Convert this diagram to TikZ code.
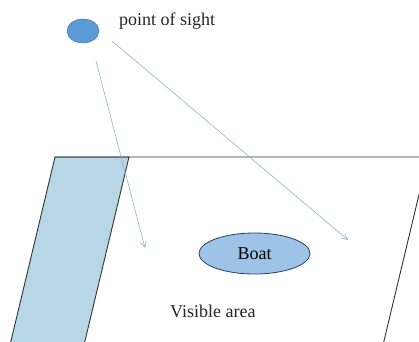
\documentclass[tikz,border=0pt]{standalone}
\usepackage{fontspec}
\setmainfont{Liberation Serif}
\usetikzlibrary{arrows.meta, shapes.geometric, positioning}
\definecolor{sight}{HTML}{5B9BD5}
\definecolor{sightline}{HTML}{41719C}
\definecolor{boatfill}{HTML}{9DC3E6}
\definecolor{boatline}{HTML}{2F3F5F}
\definecolor{stripfill}{HTML}{B7D6E6}
\definecolor{raycol}{HTML}{8DB4CC}
\begin{document}
\begin{tikzpicture}[
  x=1pt, y=-1pt,
  eye/.style={ellipse, draw=sightline, fill=sight, minimum width=32pt,
              minimum height=24pt, inner sep=0pt},
  boat/.style={ellipse, draw=boatline, fill=boatfill, line width=0.8pt,
               minimum width=111pt, minimum height=41pt, inner sep=0pt,
               font=\fontsize{18}{20}\selectfont},
  lbl/.style={font=\fontsize{18}{20}\selectfont, text=black!85, inner sep=0pt},
  rim/.style={draw=black!80, line width=0.9pt},
  strip/.style={rim, fill=stripfill},
  ray/.style={-{Straight Barb[length=6pt, width=6pt]}, draw=raycol, line width=0.6pt}
]
\useasboundingbox (0,0) rectangle (419,341);
\clip (0,0) rectangle (419,341);
\fill[white] (0,0) rectangle (419,341);
\coordinate (tl) at (55,157);
\coordinate (bl) at (10,345);
\coordinate (tr) at (428,157);
\coordinate (br) at (383,345);
\filldraw[strip] (tl) -- (129,157) -- (84,345) -- (bl);
\draw[rim] (bl) -- (tl) -- (440,157);
\draw[rim] (tr) -- (br);
\node[eye] (sight) at (83,31) {};
\node[lbl, anchor=base west] (sightlbl) at (119,25) {point of sight};
\node[boat] (boat) at (254.5,253.5) {Boat};
\node[lbl, anchor=base west] (visible) at (170,317) {Visible area};
\coordinate (ray1s) at (96,61);
\coordinate (ray1e) at (145,248);
\coordinate (ray2s) at (112,41);
\coordinate (ray2e) at (348,240);
\draw[ray] (ray1s) -- (ray1e);
\draw[ray] (ray2s) -- (ray2e);
\end{tikzpicture}
\end{document}
